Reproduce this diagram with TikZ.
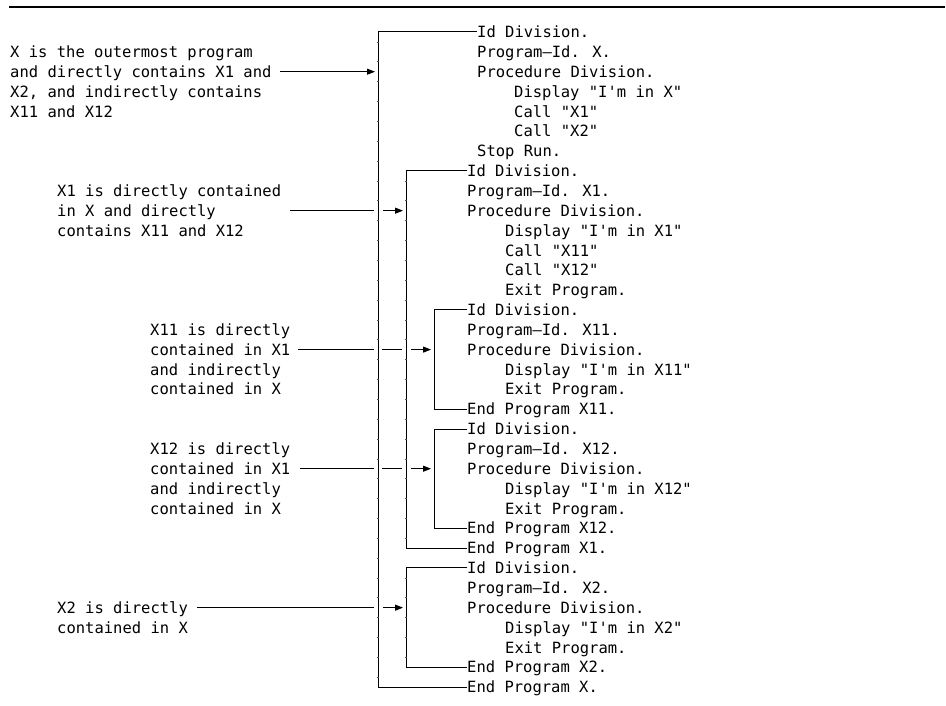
\documentclass[tikz,border=0pt]{standalone}
\usepackage{fontspec}
\newfontfamily\cobolfont{DejaVu Sans Mono}
\usetikzlibrary{arrows.meta}
\newcommand{\rowy}[1]{32+19.85*#1}
\newcommand{\codeline}[3]{\node[codetext] (r#1) at (#2,{\rowy{#1}}) {#3};}
\newcommand{\noteline}[4]{\node[codetext] (#1) at (#2,{\rowy{#3}}) {#4};}
\begin{document}
\begin{tikzpicture}[x=1pt,y=-1pt,
  codetext/.style={font=\cobolfont\fontsize{15.5}{18}\selectfont, anchor=west, inner sep=0pt, text height=14pt, text depth=2.7pt},
  ln/.style={line width=1pt},
  arr/.style={ln,-{Triangle[length=8pt,width=6pt]}},
  tick/.style={line width=0.5pt, black!70},
  rule/.style={line width=2pt}]
\useasboundingbox (0,0) rectangle (946,706);
% top rule
\coordinate (ruleL) at (9,7);
\coordinate (ruleR) at (945,7);
\draw[rule] (ruleL) -- (ruleR);
% bracket x positions
\coordinate (bA) at (378,0);
\coordinate (bB) at (406,0);
\coordinate (bC) at (434,0);
% code lines
\codeline{0}{477}{Id Division.}
\codeline{1}{477}{Program–Id. X.}
\codeline{2}{477}{Procedure Division.}
\codeline{3}{514}{Display "I'm in X"}
\codeline{4}{514}{Call "X1"}
\codeline{5}{514}{Call "X2"}
\codeline{6}{477}{Stop Run.}
\codeline{7}{467}{Id Division.}
\codeline{8}{467}{Program–Id. X1.}
\codeline{9}{467}{Procedure Division.}
\codeline{10}{505}{Display "I'm in X1"}
\codeline{11}{505}{Call "X11"}
\codeline{12}{505}{Call "X12"}
\codeline{13}{505}{Exit Program.}
\codeline{14}{467}{Id Division.}
\codeline{15}{467}{Program–Id. X11.}
\codeline{16}{467}{Procedure Division.}
\codeline{17}{505}{Display "I'm in X11"}
\codeline{18}{505}{Exit Program.}
\codeline{19}{467}{End Program X11.}
\codeline{20}{467}{Id Division.}
\codeline{21}{467}{Program–Id. X12.}
\codeline{22}{467}{Procedure Division.}
\codeline{23}{505}{Display "I'm in X12"}
\codeline{24}{505}{Exit Program.}
\codeline{25}{467}{End Program X12.}
\codeline{26}{467}{End Program X1.}
\codeline{27}{467}{Id Division.}
\codeline{28}{467}{Program–Id. X2.}
\codeline{29}{467}{Procedure Division.}
\codeline{30}{505}{Display "I'm in X2"}
\codeline{31}{505}{Exit Program.}
\codeline{32}{467}{End Program X2.}
\codeline{33}{467}{End Program X.}
% notes
\noteline{na1}{10}{1}{X is the outermost program}
\noteline{na2}{10}{2}{and directly contains X1 and}
\noteline{na3}{10}{3}{X2, and indirectly contains}
\noteline{na4}{10}{4}{X11 and X12}
\noteline{nb1}{57}{8}{X1 is directly contained}
\noteline{nb2}{57}{9}{in X and directly}
\noteline{nb3}{57}{10}{contains X11 and X12}
\noteline{nc1}{150}{15}{X11 is directly}
\noteline{nc2}{150}{16}{contained in X1}
\noteline{nc3}{150}{17}{and indirectly}
\noteline{nc4}{150}{18}{contained in X}
\noteline{nd1}{150}{21}{X12 is directly}
\noteline{nd2}{150}{22}{contained in X1}
\noteline{nd3}{150}{23}{and indirectly}
\noteline{nd4}{150}{24}{contained in X}
\noteline{ne1}{57}{29}{X2 is directly}
\noteline{ne2}{57}{30}{contained in X}
% brackets
\draw[ln] (r0.west) -- (r0.west -| bA) -- (r33.west -| bA) -- (r33.west);
\draw[ln] (r7.west) -- (r7.west -| bB) -- (r26.west -| bB) -- (r26.west);
\draw[ln] (r14.west) -- (r14.west -| bC) -- (r19.west -| bC) -- (r19.west);
\draw[ln] (r20.west) -- (r20.west -| bC) -- (r25.west -| bC) -- (r25.west);
\draw[ln] (r27.west) -- (r27.west -| bB) -- (r32.west -| bB) -- (r32.west);
% ticks on bracket verticals
\foreach \i in {0,...,32} \draw[tick] (377,{\rowy{\i}+9.9}) -- (379,{\rowy{\i}+9.9});
\foreach \i in {7,...,25} \draw[tick] (405,{\rowy{\i}+9.9}) -- (407,{\rowy{\i}+9.9});
\foreach \i in {27,...,31} \draw[tick] (405,{\rowy{\i}+9.9}) -- (407,{\rowy{\i}+9.9});
% arrows
\coordinate (aS) at (280,{\rowy{2}});
\coordinate (aT) at (375,{\rowy{2}});
\draw[arr] (aS) -- (aT);
\coordinate (bS) at (290,{\rowy{9}});
\coordinate (bM) at (374,{\rowy{9}});
\coordinate (bS2) at (383,{\rowy{9}});
\coordinate (bT) at (403,{\rowy{9}});
\draw[ln] (bS) -- (bM);
\draw[arr] (bS2) -- (bT);
\coordinate (cS) at (298,{\rowy{16}});
\coordinate (cM) at (374,{\rowy{16}});
\coordinate (cS2) at (382,{\rowy{16}});
\coordinate (cM2) at (402,{\rowy{16}});
\coordinate (cS3) at (411,{\rowy{16}});
\coordinate (cT) at (431,{\rowy{16}});
\draw[ln] (cS) -- (cM);
\draw[ln] (cS2) -- (cM2);
\draw[arr] (cS3) -- (cT);
\coordinate (dS) at (300,{\rowy{22}});
\coordinate (dM) at (374,{\rowy{22}});
\coordinate (dS2) at (382,{\rowy{22}});
\coordinate (dM2) at (402,{\rowy{22}});
\coordinate (dS3) at (411,{\rowy{22}});
\coordinate (dT) at (431,{\rowy{22}});
\draw[ln] (dS) -- (dM);
\draw[ln] (dS2) -- (dM2);
\draw[arr] (dS3) -- (dT);
\coordinate (eS) at (197,{\rowy{29}});
\coordinate (eM) at (374,{\rowy{29}});
\coordinate (eS2) at (383,{\rowy{29}});
\coordinate (eT) at (403,{\rowy{29}});
\draw[ln] (eS) -- (eM);
\draw[arr] (eS2) -- (eT);
\end{tikzpicture}
\end{document}
